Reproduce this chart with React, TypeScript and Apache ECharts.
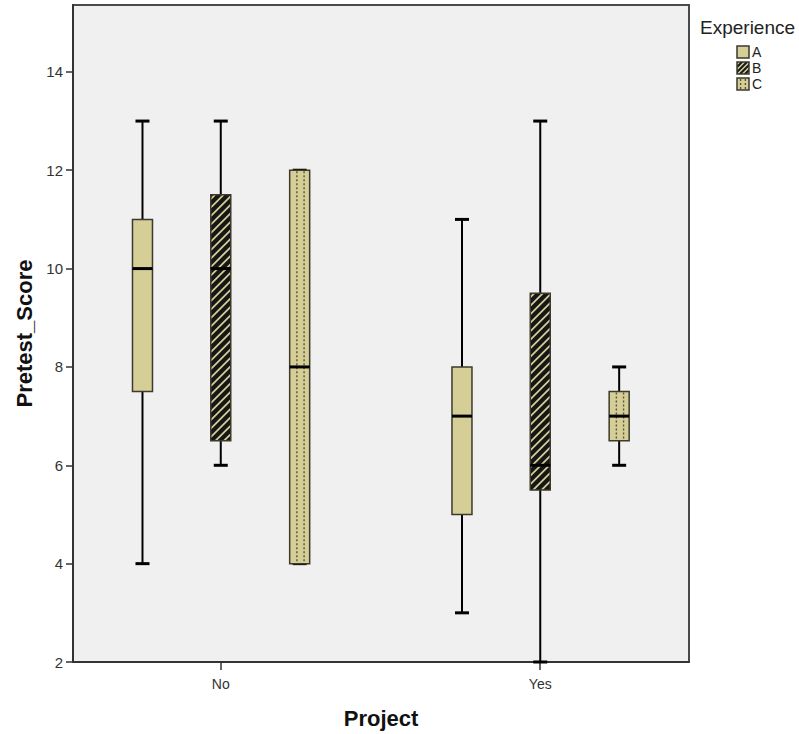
import React, { useEffect, useRef } from 'react';
import * as echarts from 'echarts';

// Data
const categories = ['No', 'Yes'];
const experiences = ['A', 'B', 'C'];
// [min, Q1, median, Q3, max] for each category (No, Yes)
const expA = [[4, 7.5, 10, 11, 13], [3, 5, 7, 8, 11]];
const expB = [[6, 6.5, 10, 11.5, 13], [2, 5.5, 6, 9.5, 13]];
const expC = [[4, 4, 8, 12, 12], [6, 6.5, 7, 7.5, 8]];
const yTicks = [2, 4, 6, 8, 10, 12, 14];

const KHAKI = '#d5cf97';
const DARK = '#161616';
const EDGE = '#3b3a2c';
const FONT = '"Liberation Sans", Arial, sans-serif';

function stripeSegments(L: number, T: number, W: number, H: number, step: number) {
  const R = L + W, B = T + H;
  const segs: number[][] = [];
  for (let c = L + T + step / 2; c < R + B; c += step) {
    const x1 = Math.max(L, c - B), x2 = Math.min(R, c - T);
    if (x2 > x1) segs.push([x1, c - x1, x2, c - x2]);
  }
  return segs;
}

function patternElements(kind: string, L: number, T: number, W: number, H: number, step: number, dotted: number[], sw: number) {
  const els: any[] = [];
  els.push({ type: 'rect', shape: { x: L, y: T, width: W, height: H }, style: { fill: kind === 'B' ? DARK : KHAKI } });
  if (kind === 'B') {
    stripeSegments(L, T, W, H, step).forEach((s) => {
      els.push({ type: 'line', shape: { x1: s[0], y1: s[1], x2: s[2], y2: s[3] }, style: { stroke: KHAKI, lineWidth: sw } });
    });
  }
  if (kind === 'C') {
    dotted.forEach((f) => {
      const xx = L + W * f;
      els.push({ type: 'line', shape: { x1: xx, y1: T + 1, x2: xx, y2: T + H - 1 }, style: { stroke: '#5a5435', lineWidth: 1.4, lineDash: [2, 2] } });
    });
  }
  els.push({ type: 'rect', shape: { x: L, y: T, width: W, height: H }, style: { fill: 'none', stroke: EDGE, lineWidth: 1.5 } });
  return els;
}

const offsets = [-0.245, 0, 0.247];

function makeRender(kind: string) {
  return (params: any, api: any) => {
    const x = api.value(0);
    const ys = [1, 2, 3, 4, 5].map((k) => api.coord([x, api.value(k)])[1]);
    const cx = api.coord([x, api.value(1)])[0];
    const [yMin, yQ1, yMed, yQ3, yMax] = ys;
    const bw = 20, cw = 14;
    const children: any[] = [];
    const wStyle = { stroke: '#000', lineWidth: 2 };
    if (yMax < yQ3) children.push({ type: 'line', shape: { x1: cx, y1: yQ3, x2: cx, y2: yMax }, style: wStyle });
    if (yMin > yQ1) children.push({ type: 'line', shape: { x1: cx, y1: yQ1, x2: cx, y2: yMin }, style: wStyle });
    children.push({ type: 'line', shape: { x1: cx - cw / 2, y1: yMax, x2: cx + cw / 2, y2: yMax }, style: { stroke: '#000', lineWidth: 3 } });
    children.push({ type: 'line', shape: { x1: cx - cw / 2, y1: yMin, x2: cx + cw / 2, y2: yMin }, style: { stroke: '#000', lineWidth: 3 } });
    patternElements(kind, cx - bw / 2, yQ3, bw, yQ1 - yQ3, 8.5, [0.36, 0.72], 1.8).forEach((e) => children.push(e));
    children.push({ type: 'line', shape: { x1: cx - bw / 2, y1: yMed, x2: cx + bw / 2, y2: yMed }, style: { stroke: '#000', lineWidth: 3 } });
    return { type: 'group', children };
  };
}

export default function App() {
  const ref = useRef<HTMLDivElement>(null);
  useEffect(() => {
    if (!ref.current) return;
    const chart = echarts.init(ref.current, null, { renderer: 'svg' });
    const allSeries = [expA, expB, expC];
    const series = experiences.map((name, i) => ({
      type: 'custom',
      name,
      renderItem: makeRender(name),
      encode: { x: 0, y: [1, 2, 3, 4, 5] },
      data: allSeries[i].map((d, j) => [j + offsets[i], ...d]),
      z: 3,
    }));

    const legendEls: any[] = [
      { type: 'text', x: 700, y: 27, style: { text: 'Experience', font: `19px ${FONT}`, fill: '#222', textVerticalAlign: 'middle' } },
    ];
    experiences.forEach((name, i) => {
      const top = 46 + i * 16;
      legendEls.push({ type: 'group', children: patternElements(name, 737, top, 12, 12, 5, [0.3, 0.7], 1.6) });
      legendEls.push({ type: 'text', x: 752, y: top + 6, style: { text: name, font: `14px ${FONT}`, fill: '#222', textVerticalAlign: 'middle' } });
    });

    chart.setOption({
      animation: false,
      backgroundColor: '#ffffff',
      grid: { left: 73, top: 5, right: 110, bottom: 72, show: true, backgroundColor: '#f0f0f0', borderColor: '#4a4a4a', borderWidth: 2 },
      xAxis: {
        type: 'value',
        min: -0.4625,
        max: 1.4656,
        name: 'Project',
        nameLocation: 'middle',
        nameGap: 45,
        nameTextStyle: { fontFamily: FONT, fontWeight: 'bold', fontSize: 22, color: '#111' },
        axisLine: { show: true, onZero: false, lineStyle: { color: '#333', width: 2 } },
        axisTick: { show: true, customValues: [0, 1], length: 8, lineStyle: { color: '#333', width: 1.5 } },
        axisLabel: {
          customValues: [0, 1],
          formatter: (v: number) => categories[Math.round(v)] ?? '',
          fontFamily: FONT, fontSize: 14, color: '#333', margin: 15,
        },
        splitLine: { show: false },
      },
      yAxis: {
        type: 'value',
        min: 2,
        max: 15.36,
        name: 'Pretest_Score',
        nameLocation: 'middle',
        nameGap: 31,
        nameTextStyle: { fontFamily: FONT, fontWeight: 'bold', fontSize: 22, color: '#111' },
        axisLine: { show: true, onZero: false, lineStyle: { color: '#333', width: 2 } },
        axisTick: { show: true, customValues: yTicks, length: 7, lineStyle: { color: '#333', width: 1.5 } },
        axisLabel: { customValues: yTicks, fontFamily: FONT, fontSize: 15, color: '#333', margin: 10 },
        splitLine: { show: false },
      },
      series,
      graphic: legendEls,
    });
    return () => chart.dispose();
  }, []);
  return <div ref={ref} style={{ width: 799, height: 734, position: 'absolute', left: 0, top: 0 }} />;
}
